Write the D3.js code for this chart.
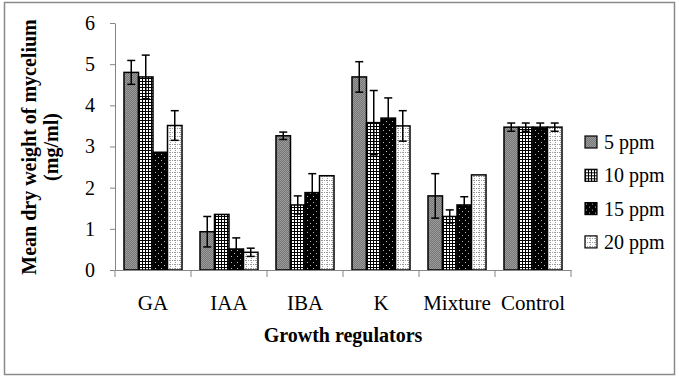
<!DOCTYPE html>
<html>
<head>
<meta charset="utf-8">
<script src="https://cdn.jsdelivr.net/npm/d3@7"></script>
<style>
  body { margin: 0; background: #fff; }
  svg text { font-family: "Liberation Serif", "Tinos", "DejaVu Serif", serif; }
</style>
</head>
<body>
<div id="chart"></div>
<script>
// data
var categories = ["GA", "IAA", "IBA", "K", "Mixture", "Control"];
var seriesNames = ["5 ppm", "10 ppm", "15 ppm", "20 ppm"];
var ppm5  = [4.80, 0.93, 3.26, 4.69, 1.80, 3.47];
var ppm10 = [4.69, 1.35, 1.58, 3.58, 1.30, 3.47];
var ppm15 = [2.86, 0.51, 1.88, 3.69, 1.58, 3.47];
var ppm20 = [3.51, 0.43, 2.29, 3.50, 2.31, 3.47];
var err5  = [0.29, 0.37, 0.09, 0.37, 0.54, 0.10];
var err10 = [0.53, 0, 0.22, 0.78, 0.16, 0.10];
var err15 = [0, 0.27, 0.46, 0.49, 0.20, 0.10];
var err20 = [0.36, 0.10, 0, 0.37, 0, 0.10];
var yTicks = [0, 1, 2, 3, 4, 5, 6];

var values = [ppm5, ppm10, ppm15, ppm20];
var errors = [err5, err10, err15, err20];

var width = 679, height = 378;
var margin = {top: 23, left: 115, right: 108, bottom: 108};
var serif = "'Liberation Serif', 'Tinos', 'DejaVu Serif', serif";

var svg = d3.select("#chart").append("svg")
    .attr("width", width)
    .attr("height", height)
    .attr("font-family", serif);

// fill patterns
var defs = svg.append("defs");

var p5 = defs.append("pattern").attr("id", "p0")
    .attr("patternUnits", "userSpaceOnUse").attr("width", 2).attr("height", 2);
p5.append("rect").attr("width", 2).attr("height", 2).attr("fill", "#9c9c9c");
p5.append("rect").attr("width", 1).attr("height", 1).attr("fill", "#767676");
p5.append("rect").attr("x", 1).attr("y", 1).attr("width", 1).attr("height", 1).attr("fill", "#767676");

var p10 = defs.append("pattern").attr("id", "p1")
    .attr("patternUnits", "userSpaceOnUse").attr("width", 3).attr("height", 3);
p10.append("rect").attr("width", 3).attr("height", 3).attr("fill", "#fff");
p10.append("rect").attr("width", 1).attr("height", 3).attr("fill", "#000");
p10.append("rect").attr("width", 3).attr("height", 1).attr("fill", "#000");

var p15 = defs.append("pattern").attr("id", "p2")
    .attr("patternUnits", "userSpaceOnUse").attr("width", 6).attr("height", 6);
p15.append("rect").attr("width", 6).attr("height", 6).attr("fill", "#000");
p15.append("rect").attr("x", 1).attr("y", 1).attr("width", 1).attr("height", 1).attr("fill", "#bbb");
p15.append("rect").attr("x", 4).attr("y", 4).attr("width", 1).attr("height", 1).attr("fill", "#bbb");

var p20 = defs.append("pattern").attr("id", "p3")
    .attr("patternUnits", "userSpaceOnUse").attr("width", 5).attr("height", 4);
p20.append("rect").attr("width", 5).attr("height", 4).attr("fill", "#fff");
[0, 2, 4].forEach(function (x) {
    p20.append("rect").attr("x", x).attr("y", 0).attr("width", 1).attr("height", 1).attr("fill", "#999");
});
p20.append("rect").attr("x", 0).attr("y", 2).attr("width", 1).attr("height", 1).attr("fill", "#999");

// outer frame
svg.append("rect")
    .attr("x", 4.5).attr("y", 2.5)
    .attr("width", 670).attr("height", 372)
    .attr("fill", "none")
    .attr("stroke", "#8a8a8a")
    .attr("stroke-width", 1.5);

var x0 = d3.scaleBand()
    .domain(categories)
    .range([margin.left, width - margin.right]);

var x1 = d3.scaleBand()
    .domain(seriesNames)
    .range([0, x0.bandwidth()])
    .paddingOuter(0.62);

var y = d3.scaleLinear()
    .domain([0, 6])
    .range([height - margin.bottom, margin.top]);

// y axis
var yAxis = svg.append("g")
    .attr("transform", "translate(" + margin.left + ",0)")
    .call(d3.axisLeft(y).tickValues(yTicks).tickFormat(d3.format("d"))
        .tickSize(5).tickSizeOuter(0).tickPadding(15));
yAxis.attr("font-family", serif).attr("font-size", 20);
yAxis.selectAll("path, line").attr("stroke", "#868686");
yAxis.selectAll("text").attr("fill", "#000");

// bars
var groups = svg.selectAll("g.grp")
    .data(categories)
    .enter().append("g")
    .attr("class", "grp")
    .attr("transform", function (d) { return "translate(" + x0(d) + ",0)"; });

groups.each(function (cat, ci) {
    var g = d3.select(this);
    seriesNames.forEach(function (s, si) {
        var v = values[si][ci];
        g.append("rect")
            .attr("x", x1(s))
            .attr("y", y(v))
            .attr("width", x1.bandwidth())
            .attr("height", y(0) - y(v))
            .attr("fill", "url(#p" + si + ")")
            .attr("stroke", "#000")
            .attr("stroke-width", 1.5);
    });
});

// error bars
groups.each(function (cat, ci) {
    var g = d3.select(this);
    seriesNames.forEach(function (s, si) {
        var v = values[si][ci], e = errors[si][ci];
        if (!e) return;
        var cx = x1(s) + x1.bandwidth() / 2;
        var eb = g.append("g").attr("stroke", "#000").attr("stroke-width", 1.5);
        eb.append("line").attr("x1", cx).attr("x2", cx).attr("y1", y(v + e)).attr("y2", y(v - e));
        eb.append("line").attr("x1", cx - 4).attr("x2", cx + 4).attr("y1", y(v + e)).attr("y2", y(v + e));
        eb.append("line").attr("x1", cx - 4).attr("x2", cx + 4).attr("y1", y(v - e)).attr("y2", y(v - e));
    });
});

// x axis
var xAxis = svg.append("g")
    .attr("transform", "translate(0," + y(0) + ")")
    .call(d3.axisBottom(x0).tickSize(0).tickPadding(25).tickSizeOuter(0));
xAxis.attr("font-family", serif).attr("font-size", 21);
xAxis.select("path").attr("stroke", "#868686");
xAxis.selectAll("text").attr("fill", "#000");

// category boundary ticks
var bounds = categories.map(function (c) { return x0(c); }).concat([x0.range()[1]]);
svg.append("g").selectAll("line")
    .data(bounds)
    .enter().append("line")
    .attr("x1", function (d) { return d; })
    .attr("x2", function (d) { return d; })
    .attr("y1", y(0))
    .attr("y2", y(0) + 7)
    .attr("stroke", "#868686");

// axis titles
svg.append("text")
    .attr("x", (x0.range()[0] + x0.range()[1]) / 2)
    .attr("y", 342)
    .attr("text-anchor", "middle")
    .attr("font-size", 20)
    .attr("font-weight", "bold")
    .text("Growth regulators");

var yt = svg.append("text")
    .attr("transform", "translate(36,147) rotate(-90)")
    .attr("text-anchor", "middle")
    .attr("font-size", 20)
    .attr("font-weight", "bold");
yt.append("tspan").attr("x", 0).attr("y", 0).text("Mean dry weight of mycelium");
yt.append("tspan").attr("x", 0).attr("y", 22).text("(mg/ml)");

// legend
var legend = svg.append("g").selectAll("g")
    .data(seriesNames)
    .enter().append("g")
    .attr("transform", function (d, i) { return "translate(585," + (142 + i * 33.3) + ")"; });
legend.append("rect")
    .attr("x", 0).attr("y", -6)
    .attr("width", 12).attr("height", 12)
    .attr("fill", function (d, i) { return "url(#p" + i + ")"; })
    .attr("stroke", "#000")
    .attr("stroke-width", 1.2);
legend.append("text")
    .attr("x", 19)
    .attr("y", 7)
    .attr("font-size", 20)
    .text(function (d) { return d; });
</script>
</body>
</html>
